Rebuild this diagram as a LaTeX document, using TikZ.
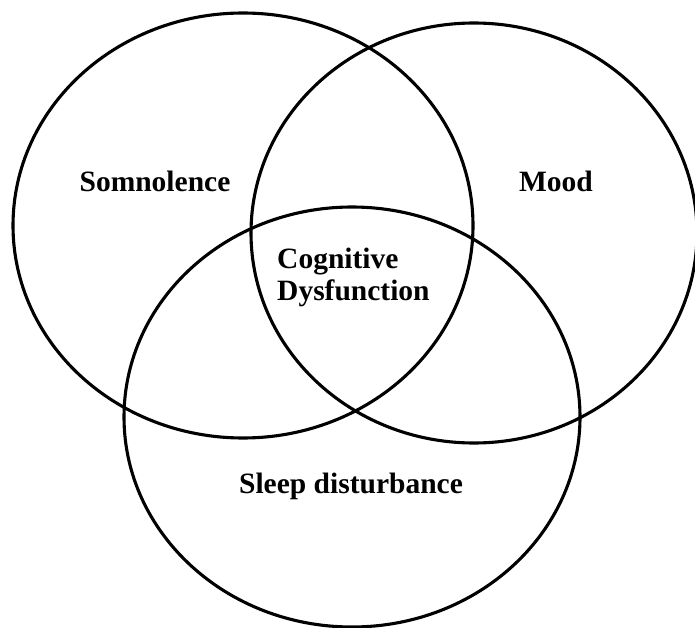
\documentclass[tikz,border=0pt]{standalone}
\usepackage{fontspec}
\setmainfont{Liberation Serif}
\usetikzlibrary{shapes.geometric,positioning}
\tikzset{
  ring/.style={draw,ellipse,line width=3.1pt,inner sep=0pt},
  lbl/.style={font=\fontsize{29.5}{32}\selectfont\bfseries,align=left,inner sep=0pt}
}

\begin{document}
\begin{tikzpicture}[x=1pt,y=-1pt]
  \useasboundingbox (0,0) rectangle (695,628);
  % the three sets
  \node[ring,minimum width=460pt,minimum height=425pt] (somn) at (243,225.5) {};
  \node[ring,minimum width=446pt,minimum height=420pt] (mood) at (474,233) {};
  \node[ring,minimum width=456pt,minimum height=420pt] (sleep) at (352,417) {};

  % labels
  \node[lbl,anchor=base] (somnlbl) at (155,192) {Somnolence};
  \node[lbl,anchor=base] (moodlbl) at (556,192) {Mood};
  \node[lbl,anchor=north west] (coglbl) at (277,248) {Cognitive\\Dysfunction};
  \node[lbl,anchor=base] (sleeplbl) at (351,493) {Sleep disturbance};
\end{tikzpicture}
\end{document}
